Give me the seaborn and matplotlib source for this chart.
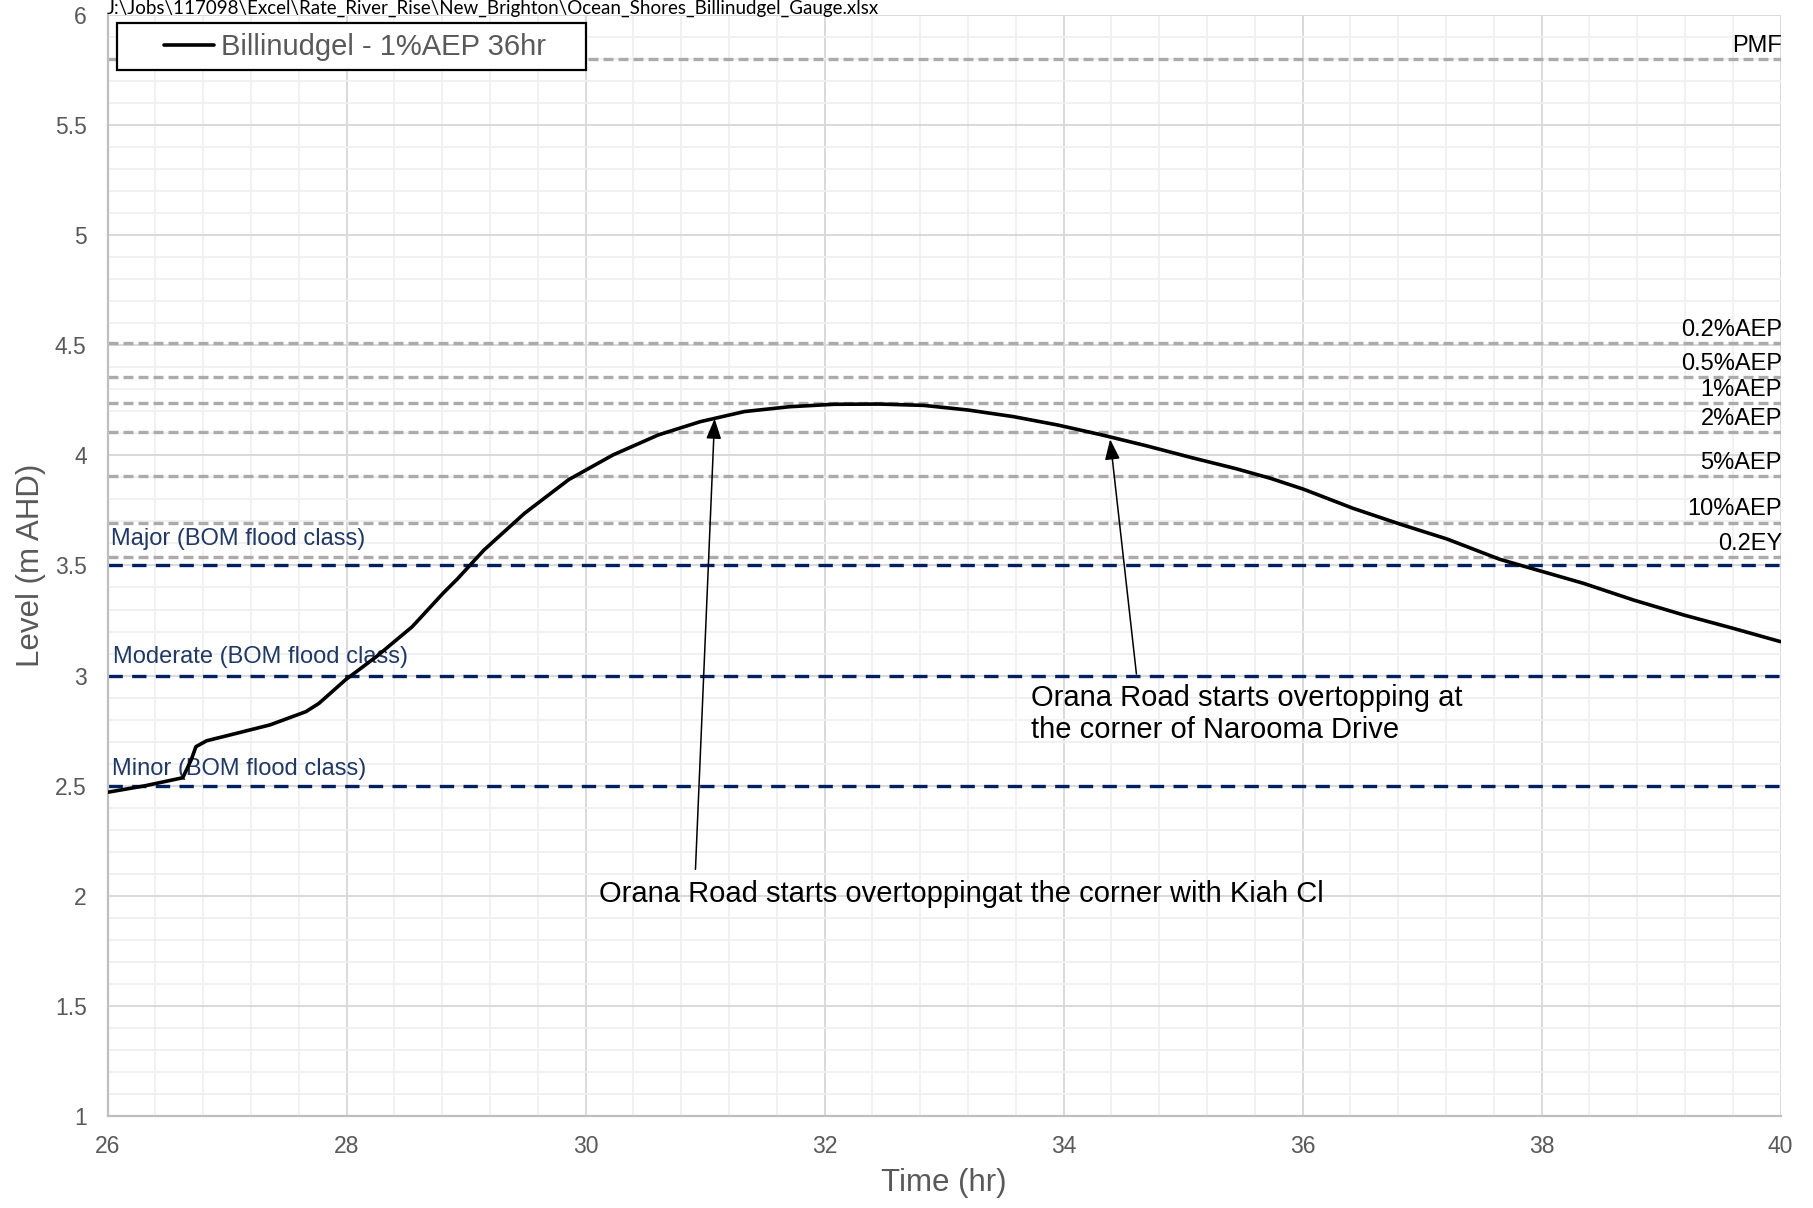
import matplotlib
matplotlib.use('Agg')
import matplotlib.pyplot as plt
import seaborn as sns
import pandas as pd
from matplotlib.ticker import MultipleLocator, FuncFormatter
from matplotlib.patches import Rectangle

# ---------------- data ----------------
time_hr = [26.00, 26.31, 26.63, 26.70, 26.74, 26.83, 27.06, 27.36, 27.66, 27.77,
           27.99, 28.25, 28.55, 28.81, 28.93, 29.15, 29.49, 29.86, 30.23, 30.61,
           30.96, 31.33, 31.71, 32.08, 32.46, 32.83, 33.20, 33.58, 33.95, 34.32,
           34.69, 35.07, 35.44, 35.73, 36.01, 36.42, 36.82, 37.21, 37.65, 38.01,
           38.35, 38.77, 39.19, 39.60, 40.00]
level_m = [2.470, 2.499, 2.536, 2.617, 2.677, 2.704, 2.735, 2.776, 2.836, 2.874,
           2.980, 3.086, 3.222, 3.375, 3.440, 3.570, 3.737, 3.890, 4.002, 4.093,
           4.153, 4.199, 4.221, 4.232, 4.233, 4.227, 4.206, 4.176, 4.138, 4.093,
           4.044, 3.990, 3.940, 3.896, 3.846, 3.760, 3.687, 3.620, 3.528, 3.472,
           3.419, 3.343, 3.275, 3.215, 3.154]
series_label = 'Billinudgel - 1%AEP 36hr'

aep_labels = ['PMF', '0.2%AEP', '0.5%AEP', '1%AEP', '2%AEP', '5%AEP', '10%AEP', '0.2EY']
aep_levels = [5.80, 4.51, 4.357, 4.236, 4.104, 3.905, 3.695, 3.537]

bom_labels = ['Major (BOM flood class)', 'Moderate (BOM flood class)', 'Minor (BOM flood class)']
bom_levels = [3.5, 3.0, 2.5]
bom_label_pos = [(26.03, 3.621), (26.05, 3.085), (26.04, 2.576)]

x_ticks = [26, 28, 30, 32, 34, 36, 38, 40]
y_ticks = [1, 1.5, 2, 2.5, 3, 3.5, 4, 4.5, 5, 5.5, 6]

note1_text = 'Orana Road starts overtoppingat the corner with Kiah Cl'
note1_tip = (31.08, 4.167)
note1_tail = (30.92, 2.12)
note1_pos = (30.11, 2.009)

note2_text = 'Orana Road starts overtopping at\nthe corner of Narooma Drive'
note2_tip = (34.39, 4.073)
note2_tail = (34.61, 3.007)
note2_pos = (33.73, 2.826)

file_path = r'J:\Jobs\117098\Excel\Rate_River_Rise\New_Brighton\Ocean_Shores_Billinudgel_Gauge.xlsx'

x_label = 'Time (hr)'
y_label = 'Level (m AHD)'

# ---------------- style ----------------
sns.set_style('white')
plt.rcParams['font.family'] = ['Liberation Sans', 'DejaVu Sans']

GREY_TXT = '#595959'
AEP_GREY = '#AEAAAA'
NAVY = '#002060'
NAVY_TXT = '#1F3864'

fig = plt.figure(figsize=(18.13, 12.08), dpi=100)
ax = fig.add_axes([0.0593, 0.0762, 0.9228, 0.9114])

df = pd.DataFrame({'time': time_hr, 'level': level_m})

# reference lines
for lev in aep_levels:
    ax.axhline(lev, color=AEP_GREY, lw=2.4, dashes=(3, 1.5), zorder=2)
for lev in bom_levels:
    ax.axhline(lev, color=NAVY, lw=2.4, dashes=(4.3, 2.8), zorder=2.2)

# labels for reference lines
for lab, lev in zip(aep_labels, aep_levels):
    ax.annotate(lab, xy=(40, lev), xytext=(1, 9.5), textcoords='offset points',
                ha='right', va='center', fontsize=17, color='black', zorder=2.5)
for lab, (xx, yy) in zip(bom_labels, bom_label_pos):
    ax.text(xx, yy, lab, ha='left', va='center', fontsize=17, color=NAVY_TXT, zorder=2.5)

# main series
sns.lineplot(data=df, x='time', y='level', ax=ax, color='black', lw=2.6,
             label=series_label, sort=False, estimator=None, zorder=3,
             solid_joinstyle='round', solid_capstyle='round')

# annotations
arrow_kw = dict(arrowstyle='-|>,head_length=0.62,head_width=0.23', color='black',
                lw=1.1, mutation_scale=20, shrinkA=0, shrinkB=0)
ax.annotate('', xy=note1_tip, xytext=note1_tail, arrowprops=arrow_kw, zorder=4)
ax.annotate('', xy=note2_tip, xytext=note2_tail, arrowprops=arrow_kw, zorder=4)
ax.text(*note1_pos, note1_text, ha='left', va='center', fontsize=21, color='black', zorder=4)
ax.text(*note2_pos, note2_text, ha='left', va='center', fontsize=21, color='black',
        linespacing=1.15, zorder=4)

# axes
ax.set_xlim(26, 40)
ax.set_ylim(1, 6)
ax.set_xticks(x_ticks)
ax.set_yticks(y_ticks)
ax.xaxis.set_minor_locator(MultipleLocator(0.4))
ax.yaxis.set_minor_locator(MultipleLocator(0.1))
ax.yaxis.set_major_formatter(FuncFormatter(lambda v, p: f'{v:g}'))
ax.xaxis.set_major_formatter(FuncFormatter(lambda v, p: f'{v:g}'))
ax.set_axisbelow(True)
ax.grid(which='major', color='#D9D9D9', lw=1.4)
ax.grid(which='minor', color='#F0F0F0', lw=1.3)
ax.tick_params(which='both', length=0)
ax.tick_params(axis='y', labelsize=16.5, labelcolor=GREY_TXT, pad=15)
ax.tick_params(axis='x', labelsize=16.5, labelcolor=GREY_TXT, pad=14)
for s in ['top', 'right']:
    ax.spines[s].set_visible(False)
for s in ['left', 'bottom']:
    ax.spines[s].set_color('#BFBFBF')
    ax.spines[s].set_linewidth(1.6)

ax.set_xlabel(x_label, fontsize=22.5, color=GREY_TXT, labelpad=7)
ax.set_ylabel(y_label, fontsize=22.5, color=GREY_TXT, labelpad=6)

# legend with a square box
ax.add_patch(Rectangle((0.00568, 0.95005), 0.28032, 0.04268, transform=ax.transAxes,
                       facecolor='white', edgecolor='black', lw=1.6, zorder=5, clip_on=False))
leg = ax.legend(loc='center left', bbox_to_anchor=(0.0338, 0.9708), frameon=False,
                fontsize=21, handlelength=1.7, handletextpad=0.25, borderpad=0,
                borderaxespad=0, labelcolor=GREY_TXT)
leg.set_zorder(6)

# file path header above the plot area
fig.text(0.059, 1 - 13.5 / 1208, file_path, ha='left', va='baseline', fontsize=13.5,
         color='black', family=['Lato', 'DejaVu Sans'])

fig.savefig('out.png', dpi=100)
